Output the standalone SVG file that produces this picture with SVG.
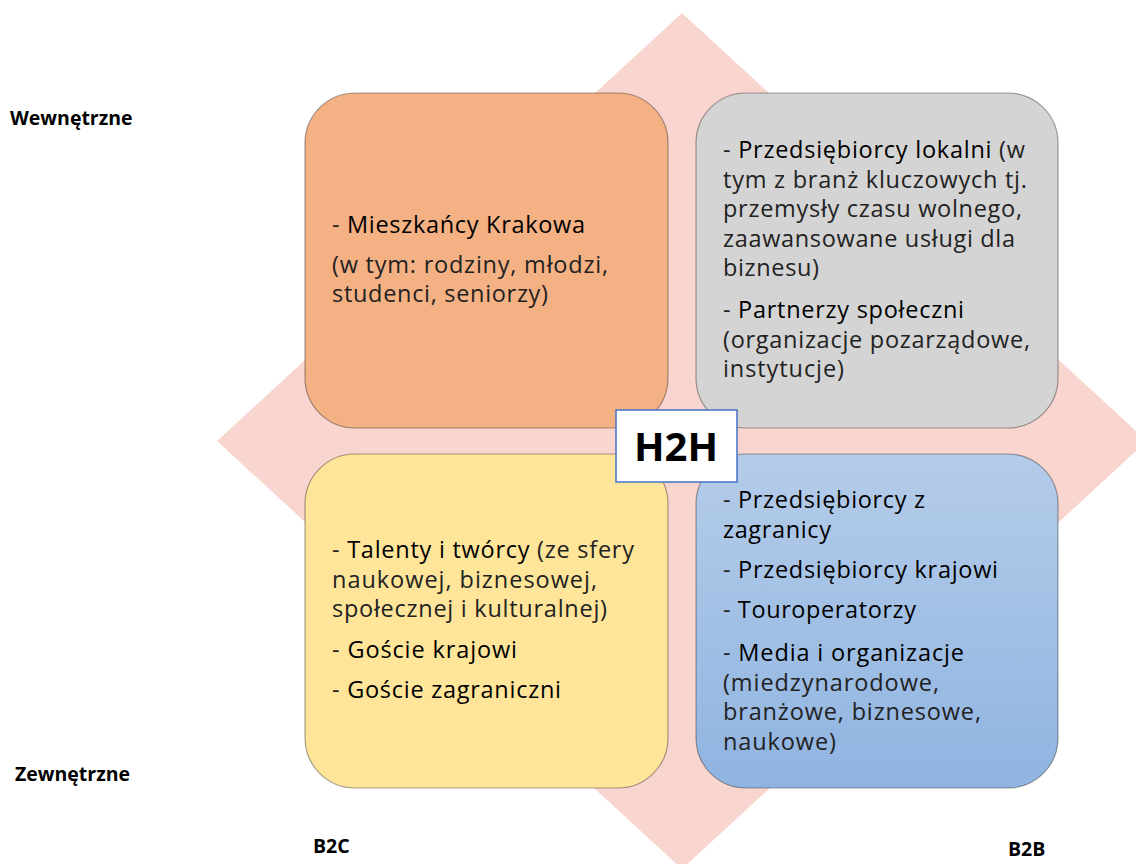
<svg xmlns="http://www.w3.org/2000/svg" width="1136" height="864" viewBox="0 0 1136 864">
<style>
.box{stroke:#000;stroke-opacity:0.35;stroke-width:1.2}
.t{font-family:"Open Sans","Noto Sans","Liberation Sans",sans-serif;font-size:23.5px;fill:#222}
.k{fill:#000}
.lbl{font-family:"Open Sans","DejaVu Sans",sans-serif;font-size:19.5px;font-weight:bold;fill:#000}
.h2h{font-family:"Open Sans","Liberation Sans",sans-serif;font-size:40px;font-weight:bold;fill:#000}
</style>
<defs>
<linearGradient id="blue" x1="0" y1="0" x2="0" y2="1">
<stop offset="0" stop-color="#b5cce9"/>
<stop offset="1" stop-color="#8fb4e1"/>
</linearGradient>
</defs>
<rect width="1136" height="864" fill="#fff"/>
<g id="background">
<polygon points="682,13 1147,441 682,869 217,441" fill="#f8d6cf"/>
</g>
<g id="connectors"></g>
<g id="node-b2c-internal">
<rect class="box" x="305" y="93" width="363" height="335" rx="50" fill="#f4b183"/>
<text class="t" x="332" y="233" textLength="253">- <tspan class="k">Mieszkańcy Krakowa</tspan></text>
<text class="t" x="332" y="273" textLength="276">(w tym: rodziny, młodzi,</text>
<text class="t" x="332" y="302" textLength="216">studenci, seniorzy)</text>
</g>
<g id="node-b2b-internal">
<rect class="box" x="696" y="93" width="362" height="335" rx="50" fill="#d4d4d4"/>
<text class="t" x="723" y="158" textLength="302">- <tspan class="k">Przedsiębiorcy lokalni</tspan> (w</text>
<text class="t" x="723" y="187.5" textLength="304">tym z branż kluczowych tj.</text>
<text class="t" x="723" y="217" textLength="299">przemysły czasu wolnego,</text>
<text class="t" x="723" y="246.5" textLength="292">zaawansowane usługi dla</text>
<text class="t" x="723" y="276" textLength="96">biznesu)</text>
<text class="t" x="723" y="318" textLength="241">- <tspan class="k">Partnerzy społeczni</tspan></text>
<text class="t" x="723" y="347.5" textLength="307">(organizacje pozarządowe,</text>
<text class="t" x="723" y="377" textLength="121">instytucje)</text>
</g>
<g id="node-b2c-external">
<rect class="box" x="305" y="454" width="363" height="334" rx="50" fill="#ffe599"/>
<text class="t" x="332" y="558" textLength="302">- <tspan class="k">Talenty i twórcy</tspan> (ze sfery</text>
<text class="t" x="332" y="587.5" textLength="265">naukowej, biznesowej,</text>
<text class="t" x="332" y="617" textLength="275">społecznej i kulturalnej)</text>
<text class="t" x="332" y="658" textLength="185">- <tspan class="k">Goście krajowi</tspan></text>
<text class="t" x="332" y="698" textLength="229">- <tspan class="k">Goście zagraniczni</tspan></text>
</g>
<g id="node-b2b-external">
<rect class="box" x="696" y="454" width="362" height="334" rx="50" fill="url(#blue)"/>
<text class="t" x="723" y="508" textLength="202">- <tspan class="k">Przedsiębiorcy z</tspan></text>
<text class="t k" x="723" y="537.5" textLength="108">zagranicy</text>
<text class="t" x="723" y="578" textLength="275">- <tspan class="k">Przedsiębiorcy krajowi</tspan></text>
<text class="t" x="723" y="618" textLength="193">- <tspan class="k">Touroperatorzy</tspan></text>
<text class="t" x="723" y="661" textLength="241">- <tspan class="k">Media i organizacje</tspan></text>
<text class="t" x="723" y="690.5" textLength="216">(miedzynarodowe,</text>
<text class="t" x="723" y="720" textLength="258">branżowe, biznesowe,</text>
<text class="t" x="723" y="749.5" textLength="113">naukowe)</text>
</g>
<g id="node-h2h">
<rect x="616" y="410" width="121" height="72" fill="#fff" stroke="#4472c4" stroke-width="1.5"/>
<text class="h2h" x="676" y="461" text-anchor="middle">H2H</text>
</g>
<g id="axis-labels">
<text class="lbl" x="10" y="125">Wewnętrzne</text>
<text class="lbl" x="15" y="781">Zewnętrzne</text>
<text class="lbl" x="313" y="853">B2C</text>
<text class="lbl" x="1008" y="856">B2B</text>
</g>
</svg>
